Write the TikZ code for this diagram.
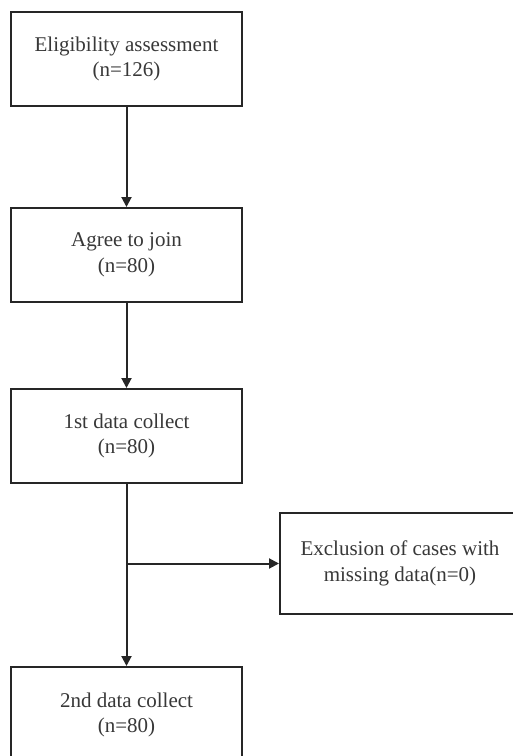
\documentclass[tikz,border=0pt]{standalone}
\usepackage{fontspec}
\setmainfont{Liberation Serif}
\usetikzlibrary{arrows.meta}
\begin{document}
\begin{tikzpicture}[x=1pt,y=-1pt,
  box/.style={draw=black!85,line width=2pt,rectangle,align=center,text=black!78,
    font=\fontsize{21}{25.5}\selectfont,inner sep=0pt},
  mainbox/.style={box,minimum width=231pt,minimum height=94pt},
  conn/.style={draw=black!85,line width=2pt,-{Triangle[length=10pt,width=10pt]}}]
\useasboundingbox (0,0) rectangle (513,756);
\clip (0,0) rectangle (513,756);
\fill[white] (0,0) rectangle (513,756);
\node[mainbox] (elig) at (126.5,59) {Eligibility assessment\\(n=126)};
\node[mainbox] (agree) at (126.5,255) {Agree to join\\(n=80)};
\node[mainbox] (first) at (126.5,436) {1st data collect\\(n=80)};
\node[box,minimum width=240pt,minimum height=101pt] (excl) at (400,563.5) {Exclusion of cases with\\missing data(n=0)};
\node[mainbox,minimum height=96pt] (second) at (126.5,715) {2nd data collect\\(n=80)};
\coordinate (branch) at (first.south |- excl.west);
\draw[conn] (elig.south) -- (agree.north);
\draw[conn] (agree.south) -- (first.north);
\draw[conn] (first.south) -- (second.north);
\draw[conn] (branch) -- (excl.west);
\end{tikzpicture}
\end{document}
